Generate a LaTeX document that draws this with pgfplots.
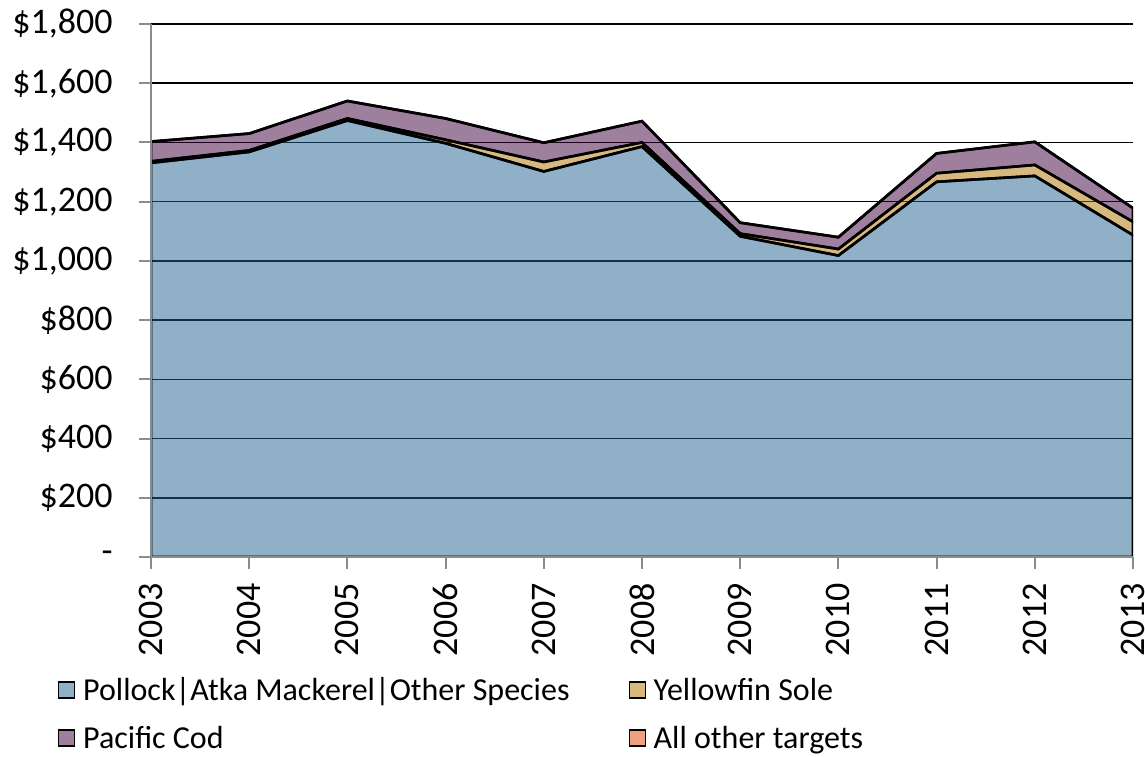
\documentclass[border=0pt]{standalone}
\usepackage{fontspec}
\setmainfont{Carlito}
\usepackage{graphicx}
\usepackage{pgfplots}
\pgfplotsset{compat=1.18}
\usepackage{pgfplotstable}

\definecolor{pollockc}{HTML}{1F6190}
\definecolor{yfinc}{HTML}{B07100}
\definecolor{codc}{HTML}{3D003D}
\definecolor{otherc}{HTML}{E04200}
\definecolor{axgray}{HTML}{8C8C8C}

\pgfplotsset{
  layers/mylayers/.define layer set={axis background,axis grid,pre main,main,axis ticks,axis lines,axis tick labels,axis descriptions,axis foreground}{
    grid style={/pgfplots/on layer=axis grid},
    tick style={/pgfplots/on layer=axis ticks},
    axis line style={/pgfplots/on layer=axis lines},
    ticklabel style={/pgfplots/on layer=axis tick labels},
    legend style={/pgfplots/on layer=axis descriptions},
    label style={/pgfplots/on layer=axis descriptions},
  },
}

\pgfplotstableread{
year P Y C O
2003 1331 5 67 0
2004 1368 5 57 0
2005 1474 7 59 0
2006 1397 12 72 0
2007 1302 32 65 0
2008 1386 14 72 0
2009 1083 9 37 0
2010 1018 22 40 0
2011 1267 29 67 0
2012 1287 37 78 0
2013 1087 45 46 0
}\datatable

\newcommand{\rl}[1]{\rotatebox{90}{#1}}

\begin{document}
\begin{tikzpicture}
\begin{axis}[
  set layers=mylayers,
  width=491pt, height=266.5pt, scale only axis,
  at={(75.5pt,99.5pt)}, anchor=south west,
  xmin=2003, xmax=2013, ymin=0, ymax=1800,
  stack plots=y,
  axis x line=bottom, axis y line=left,
  axis line style={-, axgray, line width=1pt},
  tick align=outside, major tick length=6pt,
  tick style={axgray, line width=1pt},
  xtick={2003,2004,2005,2006,2007,2008,2009,2010,2011,2012,2013},
  xticklabels={\rl{2003},\rl{2004},\rl{2005},\rl{2006},\rl{2007},\rl{2008},\rl{2009},\rl{2010},\rl{2011},\rl{2012},\rl{2013}},
  ytick={0,200,400,600,800,1000,1200,1400,1600,1800},
  yticklabels={-,\$200,\$400,\$600,\$800,{\$1,000},{\$1,200},{\$1,400},{\$1,600},{\$1,800}},
  ymajorgrids, grid style={black, line width=0.8pt},
  tick label style={font=\fontsize{18}{21}\selectfont},
  xticklabel style={anchor=north, inner sep=0pt},
  yticklabel style={anchor=east, inner sep=0pt},
  xticklabel shift=7pt,
  yticklabel shift=13pt,
  legend image code/.code={\draw[#1, draw=black, line width=0.6pt] (0pt,-4pt) rectangle (8pt,4pt);},
  legend columns=2,
  legend cell align=left,
  legend style={draw=none, fill=none, inner sep=0pt, outer sep=0pt,
    at={(-0.0947,-0.2233)}, anchor=north west,
    font=\fontsize{16}{19}\selectfont,
    nodes={text height=12pt, text depth=2pt, inner sep=0pt},
    row sep=10pt,
    /tikz/every odd column/.append style={column sep=4pt},
    /tikz/every even column/.append style={column sep=29.5pt}},
]
\addplot[draw=black, line width=1.3pt, fill=pollockc, fill opacity=0.5] table[x=year,y=P]{\datatable} \closedcycle;
\addlegendentry{Pollock|Atka Mackerel|Other Species}
\addplot[draw=black, line width=1.3pt, fill=yfinc, fill opacity=0.5] table[x=year,y=Y]{\datatable} \closedcycle;
\addlegendentry{Yellowfin Sole}
\addplot[draw=black, line width=1.3pt, fill=codc, fill opacity=0.5] table[x=year,y=C]{\datatable} \closedcycle;
\addlegendentry{Pacific Cod}
\addplot[draw=black, line width=1.3pt, fill=otherc, fill opacity=0.5] table[x=year,y=O]{\datatable} \closedcycle;
\addlegendentry{All other targets}
\end{axis}
\pgfresetboundingbox
\path[use as bounding box] (0,0) rectangle (572.5pt,378pt);
\end{tikzpicture}
\end{document}
